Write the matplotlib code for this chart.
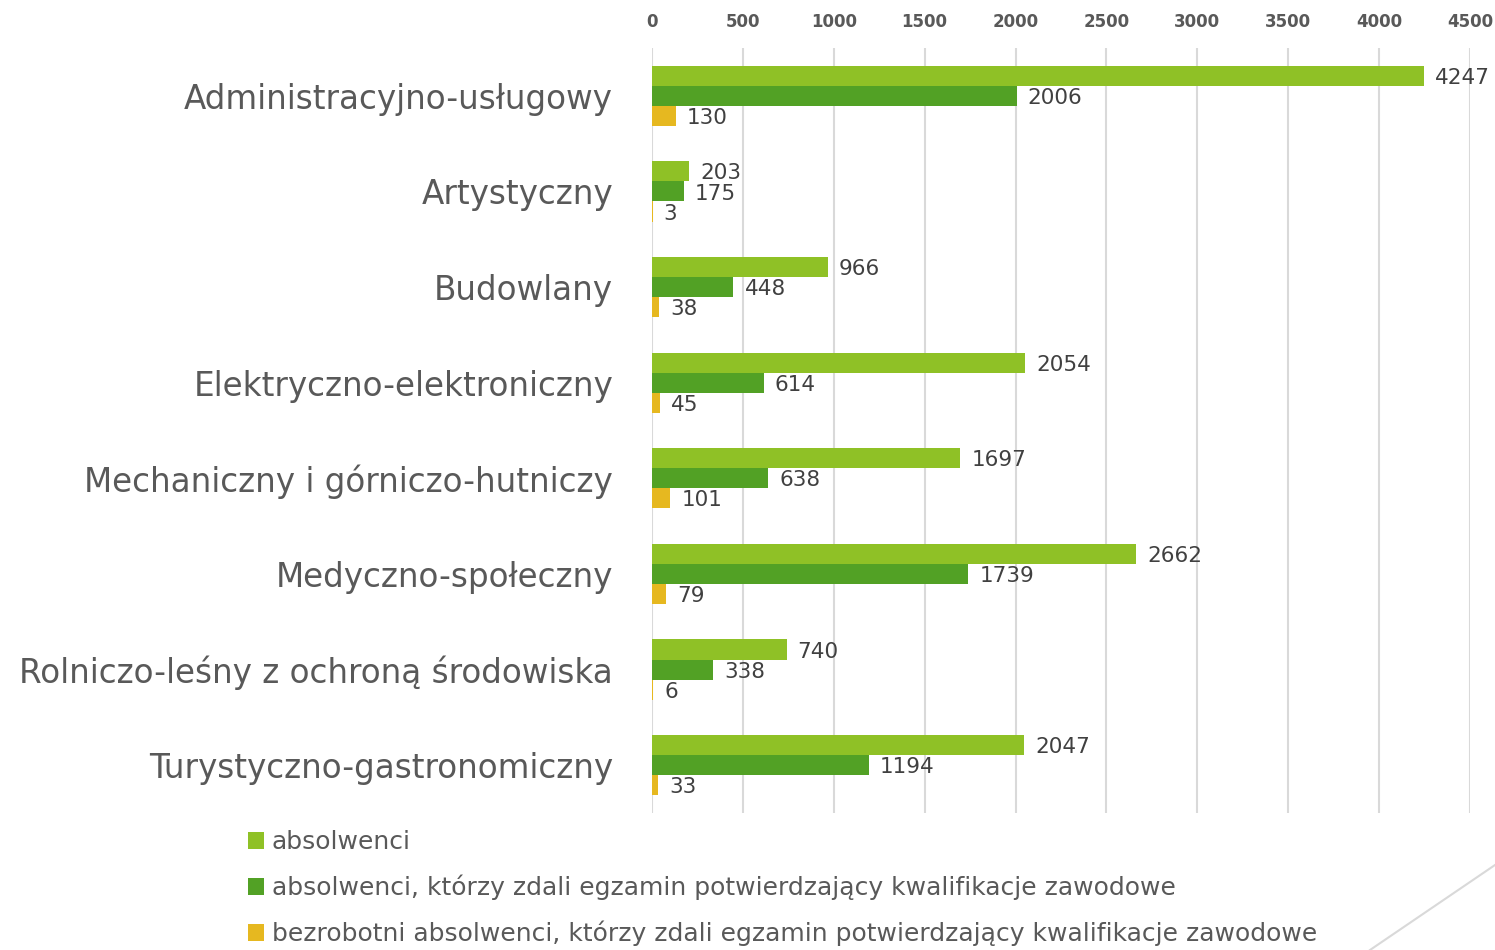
import matplotlib
matplotlib.use("Agg")
from matplotlib import pyplot as plt
from matplotlib.patches import Patch
from matplotlib.lines import Line2D
import numpy as np

categories = ["Administracyjno-usługowy", "Artystyczny", "Budowlany",
              "Elektryczno-elektroniczny", "Mechaniczny i górniczo-hutniczy",
              "Medyczno-społeczny", "Rolniczo-leśny z ochroną środowiska",
              "Turystyczno-gastronomiczny"]
absolwenci = [4247, 203, 966, 2054, 1697, 2662, 740, 2047]
zdali = [2006, 175, 448, 614, 638, 1739, 338, 1194]
bezrobotni = [130, 3, 38, 45, 101, 79, 6, 33]
series_names = ["absolwenci",
                "absolwenci, którzy zdali egzamin potwierdzający kwalifikacje zawodowe",
                "bezrobotni absolwenci, którzy zdali egzamin potwierdzający kwalifikacje zawodowe"]
colors = ["#8fc126", "#52a125", "#e6b820"]
xticks = list(range(0, 5000, 500))

text_col = "#595959"
val_col = "#404040"

fig = plt.figure(figsize=(14.95, 9.5), dpi=100)
ax = fig.add_axes([652/1495, 1-813/950, (1470-652)/1495, (813-48)/950])

y = np.arange(len(categories))
h = 0.21
for i, (vals, c) in enumerate(zip([absolwenci, zdali, bezrobotni], colors)):
  pos = y + (i - 1) * h
  ax.barh(pos, vals, height=h, color=c, zorder=3)
  for p, v in zip(pos, vals):
    ax.annotate(str(v), (v, p), xytext=(8, -1.5), textcoords="offset points",
                va="center", ha="left", fontsize=15.5, color=val_col, zorder=4)

ax.set_ylim(len(categories) - 0.5, -0.5)
ax.set_xlim(0, 4500)
ax.set_yticks(y)
ax.set_yticklabels(categories, fontsize=23.5, color=text_col)
ax.set_xticks(xticks)
ax.set_xticklabels([str(t) for t in xticks], fontsize=12, color=text_col, fontweight="bold")
ax.xaxis.tick_top()
ax.tick_params(axis="x", length=0, pad=12)
ax.tick_params(axis="y", length=0, pad=28)
ax.grid(axis="x", color="#d9d9d9", linewidth=1.5, zorder=0)
for s in ax.spines.values():
  s.set_visible(False)

handles = [Patch(facecolor=c, edgecolor="none") for c in colors]
leg = fig.legend(handles, series_names, loc="upper left", bbox_to_anchor=(238/1495, 1-820/950),
                 frameon=False, fontsize=18, labelspacing=0.82, handlelength=0.65,
                 handleheight=0.65, handletextpad=0.3, borderaxespad=0)
for t in leg.get_texts():
  t.set_color(text_col)

fig.add_artist(Line2D([1370/1495, 1], [0, 1-865/950], color="#d9d9d9", linewidth=1.5,
                      transform=fig.transFigure))

fig.savefig("out.png", dpi=100)
